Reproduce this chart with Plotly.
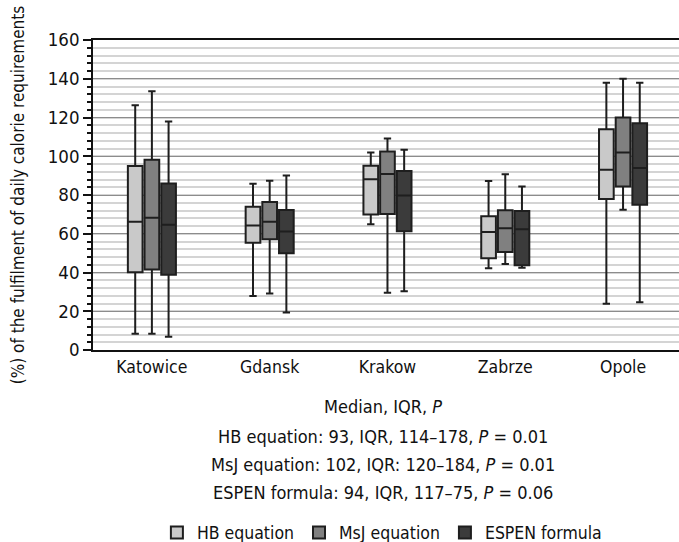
import plotly.graph_objects as go

categories = ["Katowice", "Gdansk", "Krakow", "Zabrze", "Opole"]
series_names = ["HB equation", "MsJ equation", "ESPEN formula"]

hb_lower = [8.4, 27.9, 64.9, 42.2, 23.9]
hb_q1 = [40.1, 55.4, 70.0, 47.3, 77.9]
hb_median = [66.2, 64.3, 88.1, 60.9, 93.0]
hb_q3 = [95.0, 74.0, 95.1, 69.0, 114.0]
hb_upper = [126.3, 85.8, 102.0, 87.2, 138.0]

msj_lower = [8.4, 29.2, 29.6, 44.4, 72.4]
msj_q1 = [41.6, 57.1, 70.2, 50.6, 84.4]
msj_median = [68.3, 66.2, 90.8, 62.8, 102.0]
msj_q3 = [98.2, 76.4, 102.4, 72.1, 120.0]
msj_upper = [133.5, 87.4, 109.1, 90.7, 140.0]

espen_lower = [6.9, 19.3, 30.3, 42.5, 24.6]
espen_q1 = [38.9, 49.9, 61.3, 43.7, 75.0]
espen_median = [64.7, 61.1, 79.8, 62.3, 94.0]
espen_q3 = [86.0, 72.3, 92.4, 71.7, 117.0]
espen_upper = [117.9, 90.1, 103.4, 84.4, 138.0]

y_ticks = [0, 20, 40, 60, 80, 100, 120, 140, 160]

note_lines = [
    "Median, IQR, <i>P</i>",
    "HB equation: 93, IQR, 114\u2013178, <i>P</i> = 0.01",
    "MsJ equation: 102, IQR: 120\u2013184, <i>P</i> = 0.01",
    "ESPEN formula: 94, IQR, 117\u201375, <i>P</i> = 0.06",
]

FONT = "DejaVu Sans Condensed, Roboto, sans-serif"
fills = ["#c9c9c9", "#808080", "#3b3b3b"]
series = [
    (hb_lower, hb_q1, hb_median, hb_q3, hb_upper),
    (msj_lower, msj_q1, msj_median, msj_q3, msj_upper),
    (espen_lower, espen_q1, espen_median, espen_q3, espen_upper),
]

fig = go.Figure()
for name, fill, (lo, q1, med, q3, up) in zip(series_names, fills, series):
    fig.add_trace(go.Box(
        name=name, x=categories,
        lowerfence=lo, q1=q1, median=med, q3=q3, upperfence=up,
        fillcolor=fill, line=dict(color="#1e1e1e", width=2),
        whiskerwidth=0.5, boxpoints=False,
    ))

note_y = [407, 437, 465, 493]
for txt, py in zip(note_lines, note_y):
    fig.add_annotation(
        text=txt, xref="paper", yref="paper",
        x=0.495, y=(350 - py) / 310.5, xanchor="center", yanchor="middle",
        showarrow=False, font=dict(family=FONT, size=18, color="#111"),
    )

fig.update_layout(
    width=679, height=542,
    margin=dict(l=93, r=0, t=40, b=192, autoexpand=False),
    paper_bgcolor="white", plot_bgcolor="white",
    boxmode="group", boxgap=0.575, boxgroupgap=0.12,
    font=dict(family=FONT, size=18, color="#111"),
    showlegend=True,
    legend=dict(orientation="h", x=0.493, xanchor="center",
                y=(350 - 533) / 310.5, yanchor="middle",
                font=dict(family=FONT, size=17.5, color="#111"),
                itemwidth=30, tracegroupgap=0),
    xaxis=dict(
        type="category", range=[-0.5, 4.475], automargin=False,
        showline=True, linecolor="#111", linewidth=1.5, mirror=True,
        showgrid=False, ticks="", tickfont=dict(size=17.5),
        ticklabelstandoff=0,
    ),
    yaxis=dict(
        range=[0, 160], tickvals=y_ticks, automargin=False,
        showline=True, linecolor="#111", linewidth=1.5,
        ticks="outside", ticklen=8, tickcolor="#111", tickwidth=1.5,
        showgrid=True, gridcolor="#8c8c8c", gridwidth=1,
        zeroline=False, tickfont=dict(size=18.5),
        minor=dict(dtick=4, ticks="outside", ticklen=4, tickcolor="#111",
                   showgrid=True, gridcolor="#d4d4d4", gridwidth=1.5),
        title=dict(text="(%) of the fulfilment of daily calorie requirements",
                   font=dict(size=17), standoff=19),
    ),
)

fig.write_html(
    "out.html",
    config={"displayModeBar": False},
    post_script="document.body.style.margin='0';document.body.style.overflow='hidden';",
)
